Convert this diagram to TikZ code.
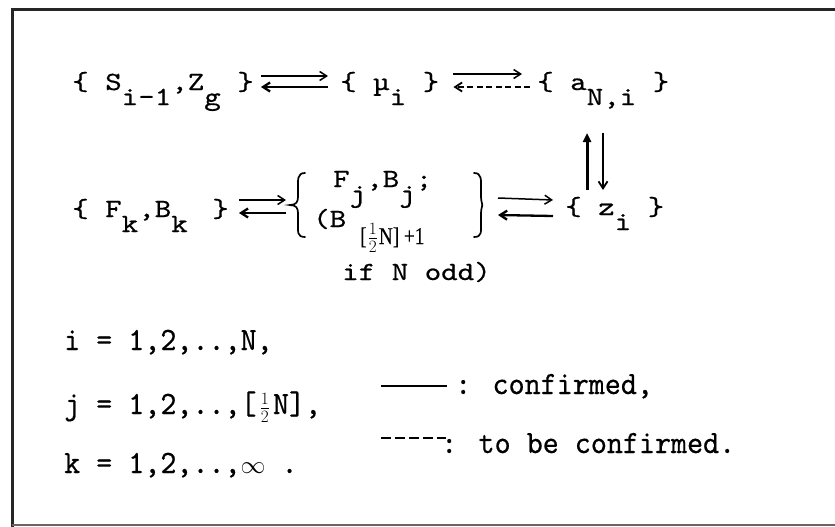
\documentclass[tikz,border=0pt]{standalone}
\usepackage{fontspec}
\usetikzlibrary{arrows.meta}
\newfontfamily\tw[FakeStretch=1.2,FakeBold=0.6]{lmmono10-regular.otf}
\newfontfamily\lgd[FakeStretch=0.94,FakeBold=0.5]{lmmono10-regular.otf}
\newfontfamily\serf[FakeStretch=0.8,FakeBold=0.3]{Liberation Serif}
\newcommand{\lo}[1]{\raisebox{-15pt}{#1}}
\begin{document}
\begin{tikzpicture}[x=1pt,y=-1pt,
  txt/.style={anchor=base west,inner sep=0pt,font={\fontsize{26.2}{30}\tw}},
  lg/.style={anchor=base west,inner sep=0pt,font={\fontsize{32.5}{36}\lgd}},
  bracepath/.style={line width=1.7pt,line cap=round},
  rtip/.style={-{Straight Barb[length=7pt,width=9pt]}},
  thin/.style={line width=1.5pt},
  thick/.style={line width=2.3pt},
  dsh/.style={line width=1.8pt,dash pattern=on 6pt off 3.5pt},
  frame/.style={line width=3pt,black!85}]
\useasboundingbox (0,0) rectangle (835,527);
% frame
\draw[frame] (835,10) -- (12,10) -- (12,527);
\draw[line width=2pt,black!60] (12,525) -- (835,525);
% row 1
\node[txt] (S) at (72,90) {\{ S\lo{i-1},Z\lo{g} \}};
\node[txt] (mu) at (340,90) {\{ \char"00B5\lo{i} \}};
\node[txt] (a) at (537,90) {\{ a\lo{N,i} \}};
% row 2
\node[txt] (F) at (72,217) {\{ F\lo{k},B\lo{k}\hspace{8pt} \}};
\coordinate (lb) at (290,205);
\coordinate (rb) at (482,205);
\draw[bracepath] (305,173) .. controls (297,173) and (298,180) .. (298,189)
  -- (298,197) .. controls (298,202) and (296,205) .. (lb)
  .. controls (296,205) and (298,208) .. (298,213)
  -- (298,223) .. controls (298,232) and (297,237) .. (305,237);
\draw[bracepath] (474,173) .. controls (482,173) and (481,180) .. (481,189)
  -- (481,197) .. controls (481,202) and (483,205) .. (rb)
  .. controls (483,205) and (481,208) .. (481,213)
  -- (481,223) .. controls (481,232) and (482,237) .. (474,237);
\node[txt] (Fj) at (333,187) {F\lo{j},B\lo{j};};
\node[txt] (Bh) at (313,227) {(B\hspace{14pt}\raisebox{-17pt}{\fontsize{24}{27}\serf [\kern1pt$\frac{1}{2}$\kern1pt N] +1}};
\node[txt] (odd) at (342,280) {if N odd)};
\node[txt] (z) at (565,215) {\{ z\lo{i} \}};
% arrows row 1
\draw[rtip,thin] ([shift={(7pt,14pt)}]S.base east) -- ([shift={(-12pt,14pt)}]mu.base west);
\draw[rtip,thick] ([shift={(-12pt,3pt)}]mu.base west) -- ([shift={(7pt,3pt)}]S.base east);
\draw[rtip,thin] ([shift={(14pt,16pt)}]mu.base east) -- ([shift={(-15pt,16pt)}]a.base west);
\draw[rtip,dsh] ([shift={(-7pt,3pt)}]a.base west) -- ([shift={(14pt,3pt)}]mu.base east);
% arrows row 2
\draw[rtip,thin] ([shift={(10pt,17pt)}]F.base east) -- ([shift={(-4pt,5pt)}]lb);
\draw[rtip,thick] ([shift={(-4pt,-8pt)}]lb) -- ([shift={(10pt,4pt)}]F.base east);
\draw[rtip,thin] ([shift={(16pt,7pt)}]rb) -- ([shift={(-12pt,15pt)}]z.base west);
\draw[rtip,thick] ([shift={(-12pt,-1pt)}]z.base west) -- ([shift={(16pt,-10pt)}]rb);
% vertical arrows
\draw[line width=3pt,-{Triangle[length=9pt,width=8pt]}] ([shift={(22pt,25pt)}]z.base west) -- ([shift={(50pt,-43pt)}]a.base west);
\draw[line width=1.8pt,rtip] ([shift={(66pt,-43pt)}]a.base west) -- ([shift={(38pt,25pt)}]z.base west);
% legend
\node[lg] (li) at (64,350) {i = 1,2,..,N,};
\node[lg] (lj) at (64,414) {j = 1,2,..,[\kern3pt{\fontsize{25}{28}\selectfont$\frac{1}{2}$}\kern3pt N],};
\node[lg] (lk) at (64,473) {k = 1,2,..,\ensuremath{\infty} .};
\node[lg] (c1) at (455,394) {: confirmed,};
\node[lg] (c2) at (441,453) {: to be confirmed.};
\draw[line width=2pt] ([shift={(-74pt,8pt)}]c1.base west) -- ([shift={(-8pt,8pt)}]c1.base west);
\draw[line width=1.8pt,dash pattern=on 10pt off 4pt] ([shift={(-60pt,15pt)}]c2.base west) -- ([shift={(5pt,15pt)}]c2.base west);
\end{tikzpicture}
\end{document}
